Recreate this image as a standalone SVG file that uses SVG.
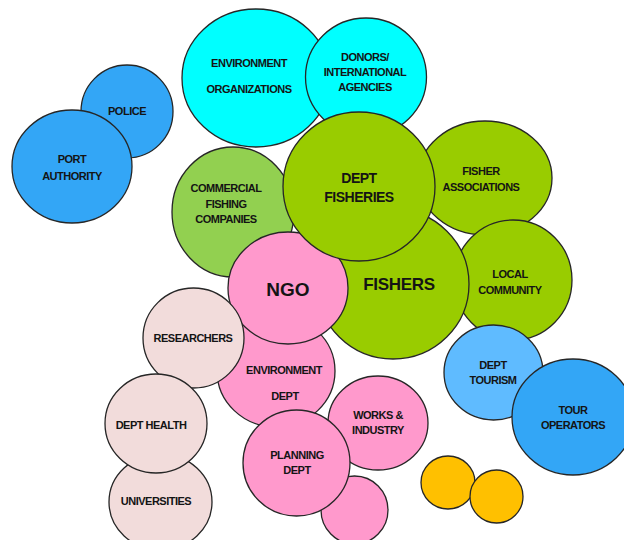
<svg xmlns="http://www.w3.org/2000/svg" width="624" height="540" viewBox="0 0 624 540">
<style>
ellipse{stroke:#262626;stroke-width:1.3}
text{font-family:"Liberation Sans",Arial,sans-serif;font-weight:bold;font-size:11px;letter-spacing:-0.5px;fill:#141414;text-anchor:middle;dominant-baseline:central}
.blue{fill:#33A6F6}
.lblue{fill:#5FBBFF}
.cyan{fill:#00FFFF}
.green{fill:#99CC00}
.lgreen{fill:#92D050}
.pink{fill:#FF99CC}
.lpink{fill:#F2DCDB}
.orange{fill:#FFC000}
</style>
<rect width="624" height="540" fill="#ffffff"/>
<g id="connectors"></g>
<g id="police"><ellipse class="blue" cx="127" cy="111.5" rx="46" ry="46.5"/><text x="127" y="111">POLICE</text></g>
<g id="port-authority"><ellipse class="blue" cx="72" cy="166.5" rx="60" ry="56.5"/><text x="72" y="159">PORT</text><text x="72" y="176">AUTHORITY</text></g>
<g id="environment-organizations"><ellipse class="cyan" cx="256" cy="78" rx="74" ry="69"/><text x="249" y="63">ENVIRONMENT</text><text x="249" y="89">ORGANIZATIONS</text></g>
<g id="donors"><ellipse class="cyan" cx="366" cy="77" rx="60.5" ry="59"/><text x="365" y="57">DONORS/</text><text x="365" y="72">INTERNATIONAL</text><text x="365" y="87">AGENCIES</text></g>
<g id="fisher-associations"><ellipse class="green" cx="485" cy="178" rx="67" ry="57"/><text x="481" y="171">FISHER</text><text x="481" y="187">ASSOCIATIONS</text></g>
<g id="local-community"><ellipse class="green" cx="513" cy="280" rx="59" ry="60"/><text x="510" y="274">LOCAL</text><text x="510" y="290">COMMUNITY</text></g>
<g id="commercial-fishing"><ellipse class="lgreen" cx="233" cy="212" rx="61" ry="65"/><text x="226" y="188">COMMERCIAL</text><text x="226" y="204">FISHING</text><text x="226" y="219">COMPANIES</text></g>
<g id="fishers"><ellipse class="green" cx="393" cy="284" rx="76" ry="75"/><text x="399" y="284" style="font-size:17px;letter-spacing:-0.3px">FISHERS</text></g>
<g id="environment-dept"><ellipse class="pink" cx="276" cy="371" rx="59" ry="56"/><text x="284" y="370">ENVIRONMENT</text><text x="285" y="396">DEPT</text></g>
<g id="ngo"><ellipse class="pink" cx="288" cy="288" rx="60" ry="56"/><text x="288" y="289" style="font-size:19px;letter-spacing:0">NGO</text></g>
<g id="dept-fisheries"><ellipse class="green" cx="359" cy="186.5" rx="76" ry="74.5"/><text x="359" y="178" style="font-size:14px">DEPT</text><text x="359" y="197" style="font-size:14px">FISHERIES</text></g>
<g id="researchers"><ellipse class="lpink" cx="193.5" cy="338" rx="50.5" ry="50"/><text x="193" y="338">RESEARCHERS</text></g>
<g id="universities"><ellipse class="lpink" cx="160.5" cy="502" rx="51.5" ry="48"/><text x="156" y="501">UNIVERSITIES</text></g>
<g id="dept-health"><ellipse class="lpink" cx="156" cy="423.5" rx="51" ry="49.5"/><text x="151" y="425">DEPT HEALTH</text></g>
<g id="works-industry"><ellipse class="pink" cx="378" cy="423" rx="50" ry="47"/><text x="378" y="415">WORKS &amp;</text><text x="378" y="430">INDUSTRY</text></g>
<g id="pink-small"><ellipse class="pink" cx="354.5" cy="510" rx="33.5" ry="34"/></g>
<g id="planning-dept"><ellipse class="pink" cx="296.5" cy="463" rx="53.5" ry="53"/><text x="297" y="455">PLANNING</text><text x="297" y="470">DEPT</text></g>
<g id="dept-tourism"><ellipse class="lblue" cx="493.5" cy="372.5" rx="49.5" ry="47.5"/><text x="493" y="365">DEPT</text><text x="493" y="380">TOURISM</text></g>
<g id="tour-operators"><ellipse class="blue" cx="573" cy="417" rx="61" ry="58"/><text x="573" y="410">TOUR</text><text x="573" y="425">OPERATORS</text></g>
<g id="orange-1"><ellipse class="orange" cx="448" cy="482.5" rx="27" ry="26.5"/></g>
<g id="orange-2"><ellipse class="orange" cx="496.5" cy="496.5" rx="26.5" ry="26.5"/></g>
</svg>
